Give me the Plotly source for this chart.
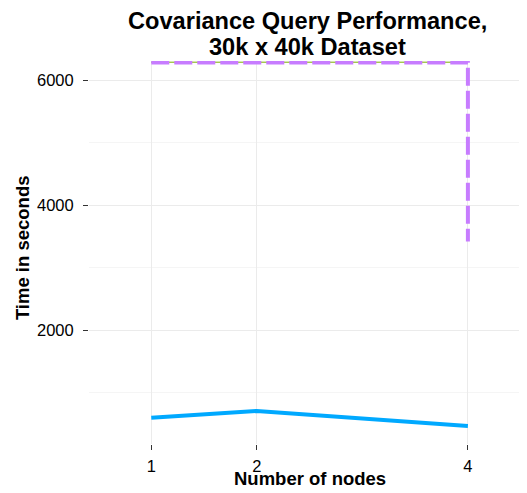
import plotly.graph_objects as go

# dados
nodes = [1, 2, 4]
tempo_azul = [595, 705, 465]
tempo_verde = [6285, 6285, 6285]
nodes_roxo = [1, 2, 4, 4]
tempo_roxo = [6280, 6280, 6280, 3415]

titulo = ["Covariance Query Performance,", "30k x 40k Dataset"]

fig = go.Figure()
fig.add_trace(go.Scatter(x=nodes, y=tempo_verde, mode="lines",
                         line=dict(color="#7CAE00", width=1)))
fig.add_trace(go.Scatter(x=nodes_roxo, y=tempo_roxo, mode="lines",
                         line=dict(color="#C77CFF", width=4, dash="18px,5px")))
fig.add_trace(go.Scatter(x=nodes, y=tempo_azul, mode="lines",
                         line=dict(color="#00A9FF", width=4)))

# a página html tem margem de 8px no body, por isso as margens são deslocadas
fig.update_layout(
    width=527, height=493,
    margin=dict(l=81, r=8, t=53, b=57, autoexpand=False),
    paper_bgcolor="white", plot_bgcolor="white",
    showlegend=False,
    font=dict(family="Liberation Sans, Arial, sans-serif", color="black"),
)

# título em duas linhas (espaçamento mais curto que o padrão)
fig.add_annotation(text="<b>" + titulo[0] + "</b>", xref="paper", yref="paper",
                   x=0.498, y=1.1044, xanchor="center", yanchor="middle",
                   showarrow=False, font=dict(size=23.6))
fig.add_annotation(text="<b>" + titulo[1] + "</b>", xref="paper", yref="paper",
                   x=0.498, y=1.0366, xanchor="center", yanchor="middle",
                   showarrow=False, font=dict(size=23.6))

# títulos dos eixos
fig.add_annotation(text="<b>Number of nodes</b>", xref="paper", yref="paper",
                   x=0.505, y=-0.0888, xanchor="center", yanchor="middle",
                   showarrow=False, font=dict(size=18.5))
fig.add_annotation(text="<b>Time in seconds</b>", xref="paper", yref="paper",
                   x=-0.153, y=0.514, xanchor="center", yanchor="middle",
                   textangle=-90, showarrow=False, font=dict(size=18.5))

fig.update_xaxes(
    range=[0.41, 4.56], tickvals=[1, 2, 4], ticktext=["1", "2", "4"],
    showgrid=True, gridcolor="#EBEBEB", gridwidth=1, zeroline=False,
    ticks="outside", ticklen=5, tickcolor="#333333", automargin=False,
    tickfont=dict(size=16.5, color="black"), ticklabelstandoff=2,
)
fig.update_yaxes(
    range=[176, 6304], tickvals=[2000, 4000, 6000],
    showgrid=True, gridcolor="#EBEBEB", gridwidth=1, zeroline=False,
    minor=dict(tickvals=[1000, 3000, 5000], showgrid=True, gridcolor="#F5F5F5"),
    ticks="outside", ticklen=5, tickcolor="#333333", automargin=False,
    tickfont=dict(size=16.5, color="black"), ticklabelstandoff=6,
)

fig.write_html("out.html")
